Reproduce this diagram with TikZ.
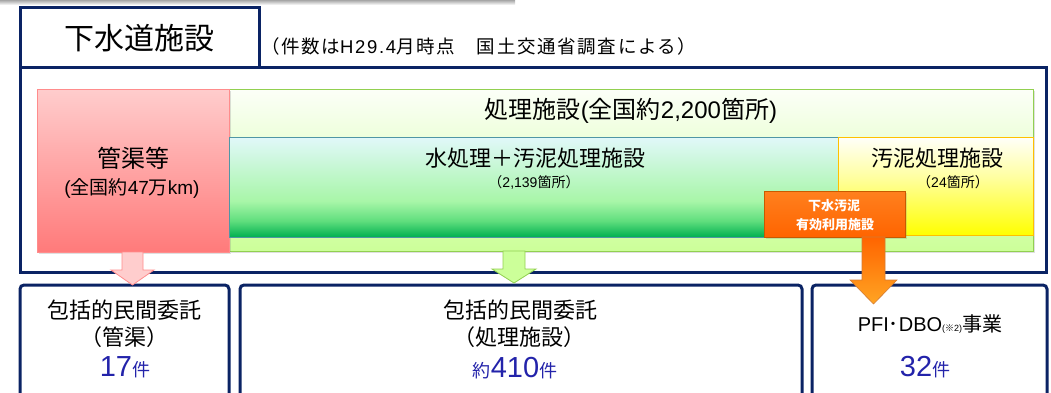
\documentclass[tikz,border=0pt]{standalone}
\usepackage{fontspec}
\setmainfont{Noto Sans CJK JP}
\newfontfamily\lat{Liberation Sans}
\usetikzlibrary{calc,shadows}
\definecolor{navy}{RGB}{10,35,100}
\definecolor{numblue}{RGB}{35,35,170}
\definecolor{pinktop}{RGB}{255,205,205}
\definecolor{pinkbot}{RGB}{255,122,122}
\definecolor{pinkline}{RGB}{255,140,140}
\definecolor{lgtop}{RGB}{252,255,248}
\definecolor{lgbot}{RGB}{204,255,153}
\definecolor{lgline}{RGB}{146,208,80}
\definecolor{gtop}{RGB}{225,248,250}
\definecolor{gmid}{RGB}{168,246,168}
\definecolor{gmidtwo}{RGB}{95,222,125}
\definecolor{gbot}{RGB}{0,176,80}
\definecolor{gline}{RGB}{80,150,165}
\definecolor{ytop}{RGB}{255,255,250}
\definecolor{ybot}{RGB}{255,255,0}
\definecolor{yline}{RGB}{255,192,0}
\definecolor{otop}{RGB}{255,128,30}
\definecolor{obot}{RGB}{255,100,0}
\definecolor{oline}{RGB}{200,90,0}
\definecolor{arrhead}{RGB}{255,165,35}
\pgfdeclareverticalshading{gshade}{100bp}{color(0bp)=(gbot); color(25bp)=(gbot); color(33bp)=(gmidtwo); color(43bp)=(gmid); color(75bp)=(gtop); color(100bp)=(gtop)}
\pgfdeclareverticalshading{yshade}{100bp}{color(0bp)=(ybot); color(25bp)=(ybot); color(55bp)=(ybot!35!ytop); color(75bp)=(ytop); color(100bp)=(ytop)}
\newcommand\blockarr[6]{%
  \draw[#1] ($(#2)+(-#4,0)$) -- ($(#2)+(#4,0)$) -- ($(#2)+(#4,#3)$) -- ($(#2)+(#5,#3)$)
    -- ($(#2)+(0,#3+#6)$) -- ($(#2)+(-#5,#3)$) -- ($(#2)+(-#4,#3)$) -- cycle;}
\begin{document}
\begin{tikzpicture}[x=1pt,y=-1pt,
  box/.style={anchor=north west,inner sep=0pt,outer sep=0pt},
  frame/.style={box,draw=navy,line width=3pt},
  lbl/.style={inner sep=0pt,align=center},
  softshadow/.style={drop shadow={opacity=0.25,shadow xshift=2pt,shadow yshift=-2pt}},
  fs/.style={font=\fontsize{#1}{#1}\selectfont},
  fsb/.style={font=\fontsize{#1}{#1}\selectfont\bfseries}]
\useasboundingbox (0,0) rectangle (1051,392);
\clip (0,0) rectangle (1051,392);
% top shadow strip
\shade[top color=black!35,bottom color=white] (0,0) rectangle (515,5);
% outer frame and title
\node[frame,minimum width=1026,minimum height=205] (outer) at (20,67) {};
\node[frame,fill=white,minimum width=239,minimum height=60] (title) at (20,7) {};
\node[lbl,fs=30] (titletxt) at (139,38) {下水道施設};
\node[lbl,font=\fontsize{18.5}{18.5}\selectfont\addfontfeature{LetterSpace=9},anchor=west] (note) at (261,46) {（件数は{\lat\addfontfeature{LetterSpace=9}H29.4}月時点　国土交通省調査による）};
% big boxes
\node[box,draw=lgline,top color=lgtop,bottom color=lgbot,line width=1pt,minimum width=804,minimum height=162,softshadow] (lgreen) at (229,89) {};
\node[box,draw=pinkline,top color=pinktop,bottom color=pinkbot,line width=1pt,minimum width=192,minimum height=163,softshadow] (pink) at (37,89) {};
\node[box,draw=gline,shading=gshade,line width=0.8pt,minimum width=609,minimum height=100] (gbox) at (229,137) {};
\node[box,draw=yline,shading=yshade,line width=1pt,minimum width=195,minimum height=98] (ybox) at (838,137) {};
\node[box,draw=oline,top color=otop,bottom color=obot,line width=0.8pt,minimum width=141,minimum height=46,softshadow] (obox) at (764,191) {};
% texts in boxes
\node[lbl,fs=24] (pinkt1) at (133,158) {管渠等};
\node[lbl,fs=19] (pinkt2) at (132,188) {{\lat (}全国約{\lat 47}万{\lat km)}};
\node[lbl,fs=24] (lgt) at (631,111) {処理施設{\lat (}全国約{\lat 2,200}箇所{\lat )}};
\node[lbl,fs=22] (gt1) at (535,158) {水処理＋汚泥処理施設};
\node[lbl,fs=14] (gt2) at (534,182) {（{\lat 2,139}箇所）};
\node[lbl,fs=22] (yt1) at (937,158) {汚泥処理施設};
\node[lbl,fs=14] (yt2) at (953,182) {（{\lat 24}箇所）};
\node[lbl,fsb=13,text=white] (ot1) at (834,206) {下水汚泥};
\node[lbl,fsb=13,text=white] (ot2) at (835,225) {有効利用施設};
% bottom boxes
\node[frame,rounded corners=4pt,minimum width=209,minimum height=130] (b1) at (20,285) {};
\node[frame,rounded corners=4pt,minimum width=562,minimum height=130] (b2) at (240,285) {};
\node[frame,rounded corners=4pt,minimum width=235,minimum height=130] (b3) at (812,285) {};
\node[lbl,fs=22] (b1a) at (124,310) {包括的民間委託};
\node[lbl,fs=22] (b1b) at (124,337) {（管渠）};
\node[lbl,text=numblue] (b1c) at (125,367) {\fontsize{29}{29}\selectfont\lat 17\fontsize{18}{18}\selectfont\rmfamily 件};
\node[lbl,fs=22] (b2a) at (520,310) {包括的民間委託};
\node[lbl,fs=22] (b2b) at (519,337) {（処理施設）};
\node[lbl,text=numblue] (b2c) at (515,368) {\fontsize{18}{18}\selectfont 約\fontsize{29}{29}\selectfont\lat 410\fontsize{18}{18}\selectfont\rmfamily 件};
\node[lbl,fs=20] (b3a) at (930,324) {{\lat PFI}･{\lat DBO}{\fontsize{9}{9}\selectfont\lat (}{\fontsize{9}{9}\selectfont ※}{\fontsize{9}{9}\selectfont\lat 2)}事業};
\node[lbl,text=numblue] (b3b) at (925,367) {\fontsize{29}{29}\selectfont\lat 32\fontsize{18}{18}\selectfont\rmfamily 件};
% arrows
\coordinate (pa) at (pink.south -| 132.5,0);
\coordinate (ga) at (lgreen.south -| 514,0);
\coordinate (oa) at (obox.south -| 873.5,0);
\blockarr{draw=pinkline,fill=pinktop,line width=0.8pt}{pa}{18}{10.5}{21.5}{15}
\blockarr{draw=lgline,fill=lgbot,line width=0.8pt}{ga}{18}{11}{22}{14}
\blockarr{draw=oline!80,top color=obot,bottom color=arrhead,line width=0.6pt}{oa}{43}{11.5}{23.5}{24}
\end{tikzpicture}
\end{document}
